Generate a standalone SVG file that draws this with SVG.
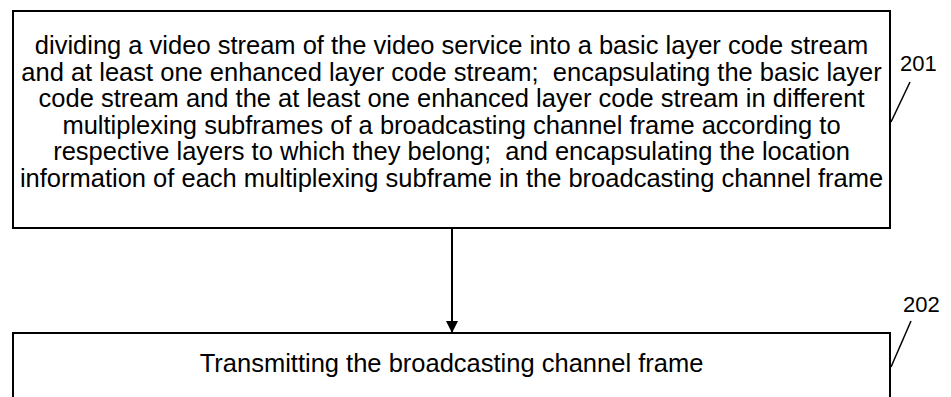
<svg xmlns="http://www.w3.org/2000/svg" width="951" height="397" viewBox="0 0 951 397">
  <defs>
    <style>
      .box { fill: #ffffff; stroke: #000000; stroke-width: 2; }
      .txt { font-family: "Liberation Sans", Arial, sans-serif; font-size: 25.5px; fill: #000000; text-anchor: middle; white-space: pre; }
      .lbl { font-family: "Liberation Sans", Arial, sans-serif; font-size: 22px; fill: #000000; }
      .lead { fill: none; stroke: #000000; stroke-width: 1.5; }
      .conn { fill: none; stroke: #000000; stroke-width: 2; }
    </style>
    <marker id="arrow" markerWidth="12" markerHeight="18" refX="12" refY="6" orient="auto" markerUnits="userSpaceOnUse">
      <path d="M0,0 L12,6 L0,12 Z" fill="#000000"/>
    </marker>
  </defs>
  <rect width="951" height="397" fill="#ffffff"/>

  <g id="node-201">
    <rect class="box" x="13" y="11" width="877" height="217"/>
    <text class="txt" x="451.5" y="54">dividing a video stream of the video service into a basic layer code stream</text>
    <text class="txt" x="451.5" y="80.5">and at least one enhanced layer code stream;  encapsulating the basic layer</text>
    <text class="txt" x="451.5" y="107">code stream and the at least one enhanced layer code stream in different</text>
    <text class="txt" x="451.5" y="133.5">multiplexing subframes of a broadcasting channel frame according to</text>
    <text class="txt" x="451.5" y="160">respective layers to which they belong;  and encapsulating the location</text>
    <text class="txt" x="451.5" y="186.5">information of each multiplexing subframe in the broadcasting channel frame</text>
    <path class="lead" d="M891,122 L910,82"/>
    <text class="lbl" x="900" y="71">201</text>
  </g>

  <g id="node-202">
    <rect class="box" x="13" y="333" width="877" height="80"/>
    <text class="txt" x="451.5" y="372">Transmitting the broadcasting channel frame</text>
    <path class="lead" d="M891,367 L911,321"/>
    <text class="lbl" x="903" y="312">202</text>
  </g>

  <g id="connectors">
    <path class="conn" d="M452,228 L452,333" marker-end="url(#arrow)"/>
  </g>
</svg>
